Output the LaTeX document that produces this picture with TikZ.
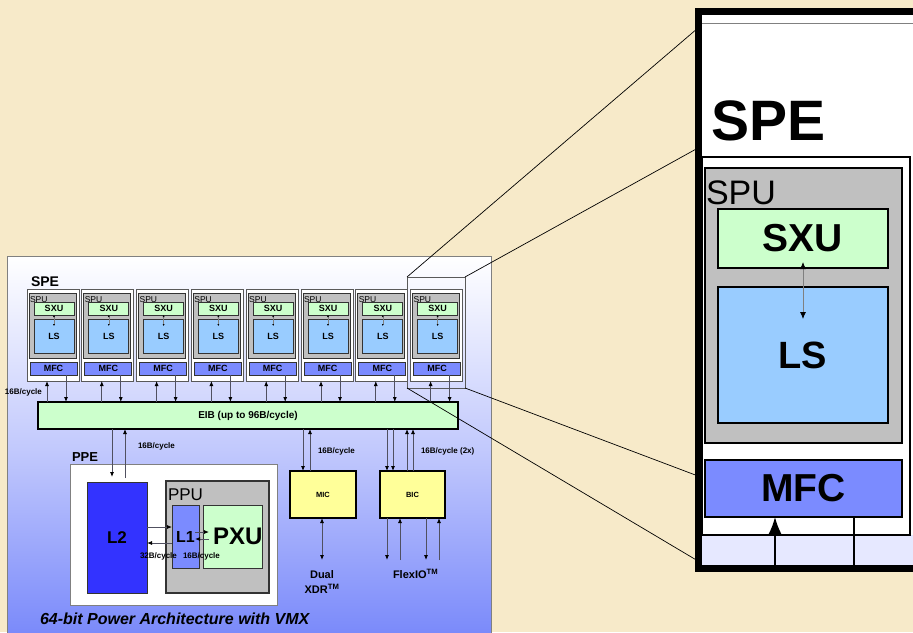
\documentclass[tikz,border=0pt]{standalone}
\usepackage{fontspec}
\setmainfont{Liberation Sans}
\usetikzlibrary{arrows.meta,calc}
\definecolor{bgc}{HTML}{F7EAC9}
\definecolor{pnl}{RGB}{118,134,250}
\definecolor{sxuc}{HTML}{CCFFCC}
\definecolor{lsc}{HTML}{99CCFF}
\definecolor{mfcc}{HTML}{7B8BFF}
\definecolor{spuc}{HTML}{C0C0C0}
\definecolor{l2c}{HTML}{3333FF}
\definecolor{micc}{HTML}{FFFF99}
\definecolor{linec}{HTML}{505060}
\definecolor{lavc}{HTML}{E6E8FF}
\newcommand\rbox[7]{\node[#6,anchor=north west,inner sep=0pt,outer sep=0pt,minimum width={(#4)-(#2)},minimum height={(#5)-(#3)}] (#1) at (#2,#3) {#7};}
\begin{document}
\begin{tikzpicture}[x=1pt,y=-1pt,
  every node/.style={inner sep=0pt,outer sep=0pt},
  unitbox/.style={draw=gray!70!black,line width=0.8pt,fill=white},
  spubox/.style={draw=black!80,line width=0.8pt,fill=spuc},
  sxubox/.style={draw=black!80,line width=0.8pt,fill=sxuc,font=\bfseries\fontsize{9}{9}\selectfont},
  lsbox/.style={draw=black!80,line width=0.8pt,fill=lsc,font=\bfseries\fontsize{9}{9}\selectfont},
  mfcbox/.style={draw=black!80,line width=0.8pt,fill=mfcc,font=\bfseries\fontsize{9}{9}\selectfont},
  spulab/.style={font=\fontsize{8.5}{8.5}\selectfont},
  lbl/.style={font=\bfseries\fontsize{8}{8}\selectfont},
  ylbox/.style={draw=black,line width=1.5pt,fill=micc,font=\bfseries\fontsize{7.5}{7.5}\selectfont},
  arr/.style={draw=linec,line width=0.8pt,-{Latex[length=5pt,width=4pt,color=black]}},
  darr/.style={draw=linec,line width=0.8pt,{Latex[length=5pt,width=4pt,color=black]}-{Latex[length=5pt,width=4pt,color=black]}},
  zoomline/.style={draw=black,line width=0.7pt},
  ibox/.style={draw=black,line width=2.5pt},
]
\useasboundingbox (0,0) rectangle (913,632);
\clip (0,0) rectangle (913,632);
\fill[bgc] (0,0) rectangle (913,632);
% main panel
\shade[top color=white,bottom color=pnl,middle color=pnl!45] (7,256) rectangle (491,645);
\draw[gray,line width=0.8pt] (7,645) -- (7,256) -- (491,256) -- (491,645);
\node[font=\bfseries\fontsize{14}{14}\selectfont,anchor=base west] (spetitle) at (31,286) {SPE};
% highlight box
\rbox{hl}{407}{277}{465}{388}{draw=gray!70!black,line width=0.8pt}{}
% EIB
\rbox{eib}{38}{402}{458}{429}{draw=black,line width=1.5pt,fill=sxuc,font=\bfseries\fontsize{10}{10}\selectfont}{EIB (up to 96B/cycle)}
\node[lbl,anchor=base west] (lblspe) at (5,394) {16B/cycle};
% SPE units
\foreach \i in {1,...,8}{
  \pgfmathsetmacro\ux{27+54.8*(\i-1)}
  \rbox{u\i}{\ux}{289}{\ux+52}{381}{unitbox}{}
  \rbox{spu\i}{\ux+2}{293}{\ux+49}{358}{spubox}{}
  \node[spulab,anchor=base west] (spul\i) at (\ux+3,302) {SPU};
  \rbox{sxu\i}{\ux+7}{302}{\ux+47}{315}{sxubox}{SXU}
  \rbox{ls\i}{\ux+7}{319}{\ux+47}{353}{lsbox}{LS}
  \rbox{mfc\i}{\ux+3}{362}{\ux+50}{375}{mfcbox}{MFC}
  \draw[draw=gray,line width=0.4pt,{Latex[length=2pt,width=2pt,color=black]}-{Latex[length=2pt,width=2pt,color=black]}] (sxu\i.south) -- ($(sxu\i.south)+(0,11)$);
  \coordinate (ua\i) at ($(u\i.south west)+(20,0)$);
  \coordinate (ub\i) at ($(u\i.south west)+(39,0)$);
  \draw[arr] (ua\i |- eib.north) -- (ua\i);
  \draw[arr] (ub\i |- mfc\i.south) -- (ub\i |- eib.north);
}
% PPE
\node[font=\bfseries\fontsize{13}{13}\selectfont,anchor=base west] (ppetitle) at (72,461) {PPE};
\rbox{ppe}{70}{464}{277}{605}{draw=gray,line width=0.8pt,fill=white}{}
\rbox{l2}{87}{482}{147}{593}{draw=black!80,line width=0.8pt,fill=l2c,font=\bfseries\fontsize{17}{17}\selectfont}{L2}
\rbox{ppu}{166}{481}{269}{593}{draw=black!80,line width=1.5pt,fill=spuc}{}
\node[font=\fontsize{17}{17}\selectfont,anchor=base west] (ppul) at (168,500) {PPU};
\rbox{l1}{172}{505}{199}{568}{draw=black!80,line width=0.8pt,fill=mfcc,font=\bfseries\fontsize{16}{16}\selectfont}{L1}
\rbox{pxu}{203}{505}{262}{568}{draw=black!80,line width=0.8pt,fill=sxuc,font=\bfseries\fontsize{24}{24}\selectfont}{\hspace*{10pt}PXU}
% L2 <-> L1
\draw[arr] (l2.east |- 0,527) -- (l1.west |- 0,527);
\draw[arr] (l1.west |- 0,543) -- (l2.east |- 0,543);
\coordinate (pa) at (195,532);
\coordinate (pb) at (209,539);
\draw[arr] (pa) -- (pa -| pb);
\draw[arr] (pb) -- (pb -| pa);
\node[lbl,anchor=base west] (l32) at (140,558) {32B/cycle};
\node[lbl,anchor=base west] (l16) at (183,558) {16B/cycle};
% L2 <-> EIB
\coordinate (l2d) at (112,477);
\coordinate (l2u) at (125,478);
\draw[arr] (l2d |- eib.south) -- (l2d);
\draw[arr] (l2u) -- (l2u |- eib.south);
\node[lbl,anchor=base west] (lppe) at (138,448) {16B/cycle};
% MIC / BIC
\rbox{mic}{290}{471}{356}{518}{ylbox}{MIC}
\rbox{bic}{380}{471}{445}{518}{ylbox}{BIC}
\coordinate (m1) at (303,0);
\coordinate (m2) at (310,0);
\draw[arr] (m1 |- eib.south) -- (m1 |- mic.north);
\draw[arr] (m2 |- mic.north) -- (m2 |- eib.south);
\node[lbl,anchor=base west] (lmic) at (318,453) {16B/cycle};
\coordinate (b1) at (387,0);
\coordinate (b2) at (393,0);
\coordinate (b3) at (407,0);
\coordinate (b4) at (413,0);
\draw[arr] (b1 |- eib.south) -- (b1 |- bic.north);
\draw[arr] (b2 |- eib.south) -- (b2 |- bic.north);
\draw[arr] (b3 |- bic.north) -- (b3 |- eib.south);
\draw[arr] (b4 |- bic.north) -- (b4 |- eib.south);
\node[lbl,anchor=base west] (lbic) at (421,453) {16B/cycle (2x)};
\coordinate (xdr) at (322,560);
\draw[darr] (xdr |- mic.south) -- (xdr);
\coordinate (f1) at (387,560);
\coordinate (f2) at (400,560);
\coordinate (f3) at (426,560);
\coordinate (f4) at (439,560);
\draw[arr] (f1 |- bic.south) -- (f1);
\draw[arr] (f2) -- (f2 |- bic.south);
\draw[arr] (f3 |- bic.south) -- (f3);
\draw[arr] (f4) -- (f4 |- bic.south);
\node[font=\bfseries\fontsize{11}{11}\selectfont,anchor=base] (dual) at (322,578) {Dual};
\node[font=\bfseries\fontsize{11}{11}\selectfont,anchor=base] (xdrl) at (322,593) {XDR\textsuperscript{TM}};
\node[font=\bfseries\fontsize{11}{11}\selectfont,anchor=base west] (flex) at (393,578) {FlexIO\textsuperscript{TM}};
\node[font=\bfseries\itshape\fontsize{16}{16}\selectfont,anchor=base west] (cap) at (40,624) {64-bit Power Architecture with VMX};
% zoom lines
\coordinate (z1) at (698,28);
\coordinate (z2) at (698,148);
\coordinate (z3) at (698,476);
\coordinate (z4) at (698,561);
\draw[zoomline] (hl.north west) -- (z1);
\draw[zoomline] (hl.north east) -- (z2);
\draw[zoomline] (hl.south east) -- (z3);
\draw[zoomline] (hl.south west) -- (z4);
% inset
\fill[white] (698,11) rectangle (940,568);
\fill[lavc] (698,535) rectangle (940,568);
\draw[gray,line width=1pt] (700,23) -- (940,23);
\node[font=\bfseries\fontsize{57}{57}\selectfont,anchor=base west] (ispe) at (711,140) {SPE};
\rbox{iu}{702}{157}{910}{535}{draw=black,line width=1.5pt,fill=white}{}
\rbox{ispu}{705}{168}{902}{443}{ibox,fill=spuc}{}
\node[font=\fontsize{34}{34}\selectfont,anchor=base west] (ispul) at (706,204) {SPU};
\rbox{isxu}{718}{209}{888}{268}{ibox,fill=sxuc,font=\bfseries\fontsize{39}{39}\selectfont}{SXU}
\rbox{ils}{718}{287}{888}{423}{ibox,fill=lsc,font=\bfseries\fontsize{38}{38}\selectfont}{LS}
\rbox{imfc}{705}{460}{902}{517}{ibox,fill=mfcc,font=\bfseries\fontsize{39}{39}\selectfont}{MFC}
\draw[draw=gray,line width=0.8pt,{Latex[length=7pt,width=6pt,color=black]}-{Latex[length=7pt,width=6pt,color=black]}] ($(isxu.south)+(0,-6)$) -- ($(isxu.south)+(0,51)$);
\coordinate (ia) at (775,568);
\coordinate (ib) at (854,568);
\draw[line width=1.8pt,-{Latex[length=18pt,width=14pt]}] (ia) -- (ia |- imfc.south);
\draw[line width=1.5pt] (ib |- imfc.south) -- (ib);
\draw[line width=7pt] (698.5,11) rectangle (960,568.5);
\end{tikzpicture}
\end{document}
